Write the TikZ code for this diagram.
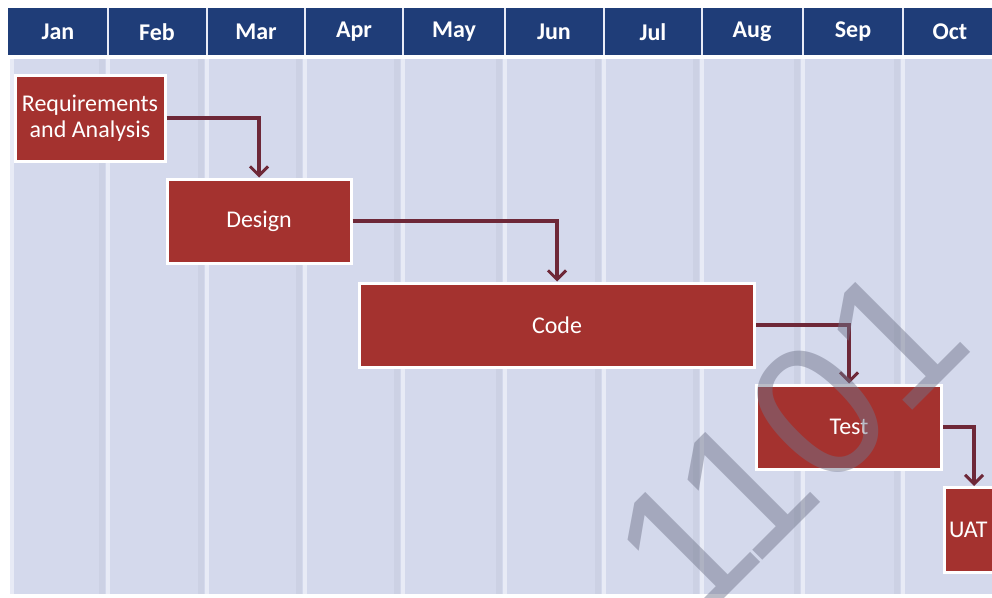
\documentclass[tikz,border=0pt]{standalone}
\usepackage{fontspec}
\setmainfont{Carlito}
\newfontfamily\wmfont{Liberation Sans}
\usetikzlibrary{arrows.meta}
\definecolor{hdr}{HTML}{1F3D78}
\definecolor{bgc}{HTML}{D4D9EC}
\definecolor{stripe}{HTML}{E8EBF6}
\definecolor{band}{HTML}{CCD1E4}
\definecolor{boxred}{HTML}{A4322F}
\definecolor{arrowc}{HTML}{6E2838}
\definecolor{wmc}{HTML}{70748A}
\begin{document}
\begin{tikzpicture}[x=1pt,y=-1pt,
  month/.style={text=white,font=\fontsize{24}{24}\selectfont\bfseries},
  task/.style={fill=boxred,draw=white,line width=3pt,text=white,
    font=\fontsize{24}{26}\selectfont,align=center,inner sep=0pt},
  conn/.style={draw=arrowc,line width=3.2pt,-{Straight Barb[length=9pt,width=18pt,line width=3pt]}}]
\useasboundingbox (0,0) rectangle (992,597);
\fill[white] (0,0) rectangle (992,597);
% body
\fill[bgc] (10,59) rectangle (992,594);
\foreach \x in {108,207,305,403,505,604,702,803,903}{
  \fill[band] (\x-9,59) rectangle (\x-3,594);
  \fill[stripe] (\x-2,59) rectangle (\x+2,594);
}
\fill[stripe] (10,59) rectangle (14,594);
% header
\fill[hdr] (8,8) rectangle (992,55);
\foreach \x in {108,207,305,403,505,604,702,803,903}{
  \draw[stripe,line width=2pt] (\x,8) -- (\x,55);
}
\node[month] (m1) at (58,32) {Jan};
\node[month] (m2) at (157,32) {Feb};
\node[month] (m3) at (256,32) {Mar};
\node[month] (m4) at (354,32) {Apr};
\node[month] (m5) at (454,32) {May};
\node[month] (m6) at (554,32) {Jun};
\node[month] (m7) at (653,32) {Jul};
\node[month] (m8) at (752,32) {Aug};
\node[month] (m9) at (853,32) {Sep};
\node[month] (m10) at (950,32) {Oct};
% tasks
\node[task,minimum width=150pt,minimum height=86pt] (req) at (90,118) {Requirements\\and Analysis};
\node[task,minimum width=184pt,minimum height=84pt] (design) at (259,221) {Design};
\node[task,minimum width=395pt,minimum height=84pt] (code) at (557,325) {Code};
\node[task,minimum width=185pt,minimum height=84pt] (test) at (849,427) {Test};
\node[task,minimum width=60pt,minimum height=85pt,text width=56pt,align=left] (uat) at (974,530) {\hspace*{3pt}UAT};
% connectors
\draw[conn] (req.east) -| (design.north);
\draw[conn] (design.east) -| (code.north);
\draw[conn] (code.east) -| (test.north);
\draw[conn] (test.east) -| (uat.north);
% watermark
\node[rotate=45,anchor=base west,inner sep=0pt,text=wmc,text opacity=0.48,
  font=\fontsize{190}{190}\selectfont\wmfont] (wm) at (692,631) {1\kern-20pt 101};
\end{tikzpicture}
\end{document}
